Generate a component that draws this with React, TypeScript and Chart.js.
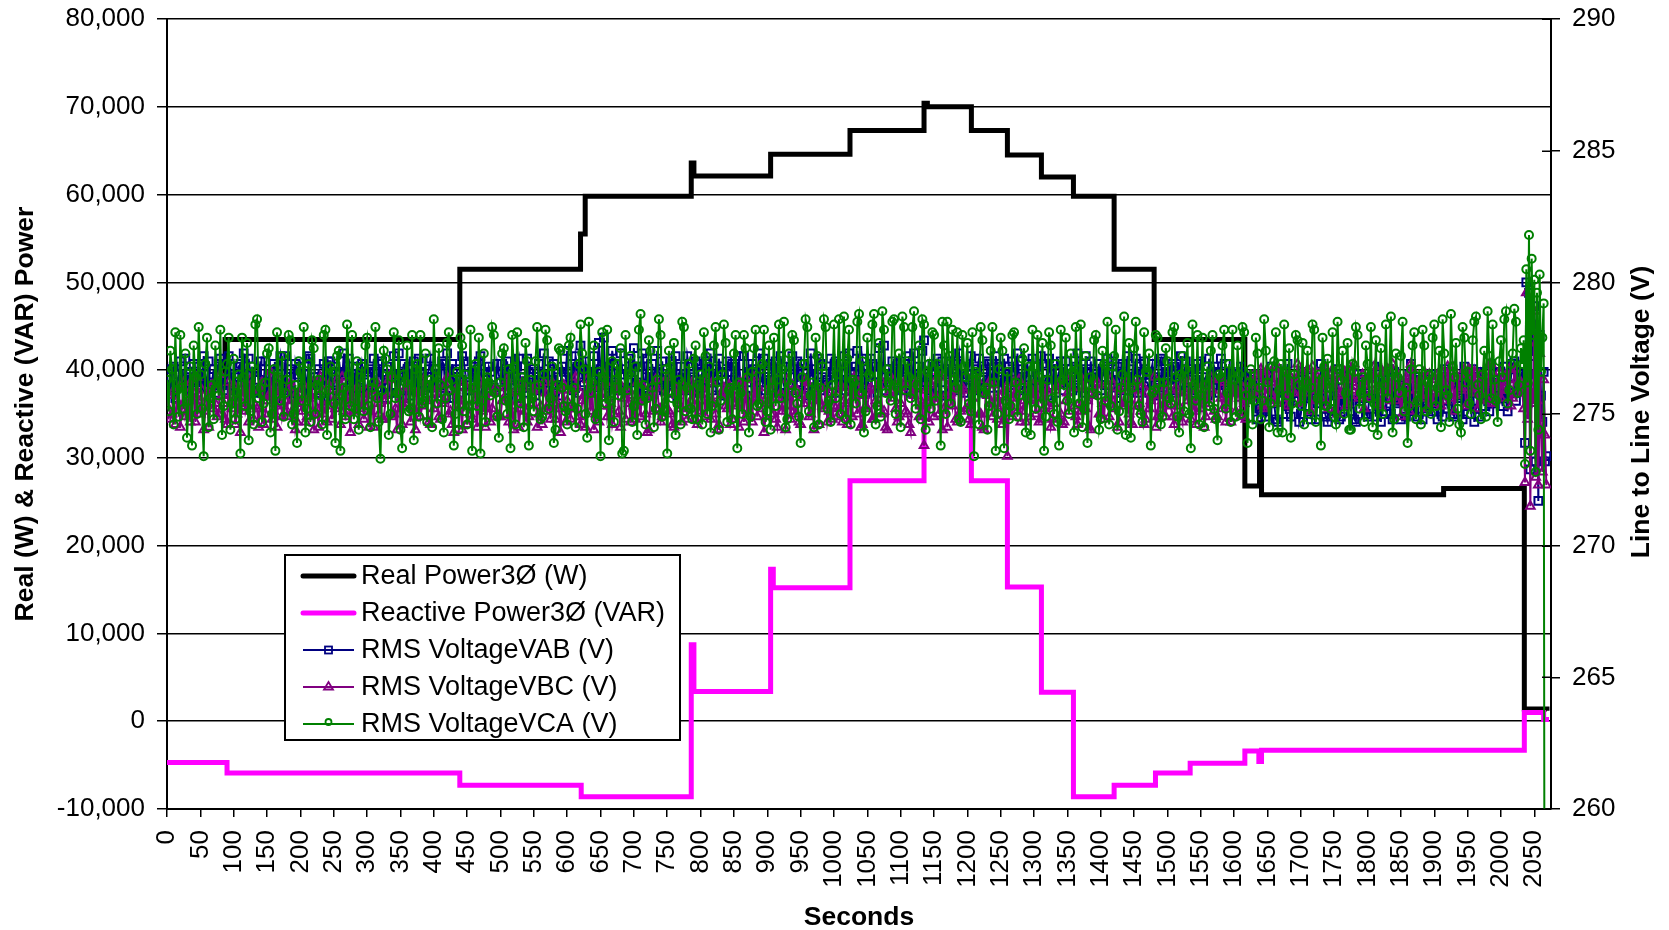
import React, { useEffect, useRef } from 'react';
import { Chart, registerables } from 'chart.js';

Chart.register(...registerables);

const FONT = "'Liberation Sans', Arial, Helvetica, sans-serif";

const X_TITLE = 'Seconds';
const LEFT_TITLE = 'Real (W) & Reactive (VAR) Power';
const RIGHT_TITLE = 'Line to Line Voltage (V)';

const NAME_REAL = 'Real Power3Ø (W)';
const NAME_REACTIVE = 'Reactive Power3Ø (VAR)';
const NAME_VAB = 'RMS VoltageVAB (V)';
const NAME_VBC = 'RMS VoltageVBC (V)';
const NAME_VCA = 'RMS VoltageVCA (V)';

const X_MIN = 0;
const X_MAX = 2075;
const X_STEP = 50;
const POWER_MIN = -10000;
const POWER_MAX = 80000;
const POWER_STEP = 10000;
const VOLT_MIN = 260;
const VOLT_MAX = 290;
const VOLT_STEP_TICK = 5;

// Real power: value starts at the given second (step changes)
const realSeconds = [0, 87, 439, 620, 627, 786, 790, 905, 1024, 1135, 1140, 1206, 1260, 1311, 1359, 1420, 1480, 1616, 1638, 1641, 1914, 2035, 2069];
const realWatts = [38500, 43500, 51500, 55500, 59800, 63600, 62100, 64600, 67300, 70400, 70000, 67300, 64500, 62000, 59800, 51500, 43500, 26800, 34000, 25800, 26500, 1400, 1200];

// Reactive power: value starts at the given second (step changes)
const reactiveSeconds = [0, 90, 439, 621, 786, 790, 905, 909, 1024, 1135, 1206, 1260, 1311, 1359, 1420, 1482, 1534, 1616, 1637, 1641, 2035, 2064, 2072];
const reactiveVars = [-4700, -5900, -7300, -8600, 8700, 3400, 17300, 15200, 27400, 39400, 27400, 15300, 3300, -8600, -7300, -5900, -4800, -3400, -4600, -3300, 1000, 200, 200];

// RMS voltages: "A" samples at 0, 5, 10 ... 2030 s; "B" samples at 2.5, 7.5 ... 2027.5 s
const SAMPLE_PERIOD = 5;
const B_OFFSET = 2.5;

const vabA = [
  276.4, 275.9, 276.8, 276.1, 277.0, 276.3, 275.7, 276.6, 276.9, 275.8, 276.2, 277.2, 276.0, 275.6, 276.7, 276.4, 277.1, 275.9, 276.3, 276.8,
  276.1, 275.5, 276.9, 277.3, 276.0, 276.5, 275.8, 276.6, 277.0, 276.2, 275.7, 276.4, 276.9, 276.1, 277.2, 275.9, 276.3, 276.7, 275.6, 276.5,
  276.8, 276.0, 275.8, 277.1, 276.4, 276.2, 275.5, 276.9, 276.3, 277.0, 276.1, 275.9, 276.6, 277.3, 276.0, 276.4, 275.7, 276.8, 276.2, 276.5,
  275.9, 276.7, 277.1, 276.0, 276.3, 275.6, 276.8, 276.4, 277.2, 275.8, 276.1, 276.9, 276.5, 275.7, 277.0, 276.2, 276.6, 275.9, 276.4, 277.1,
  276.0, 276.5, 275.8, 276.9, 277.3, 276.2, 275.6, 276.7, 276.3, 277.0, 276.1, 275.9, 276.8, 276.4, 277.2, 275.7, 276.3, 276.6, 276.0, 276.9,
  276.2, 275.8, 277.0, 276.5, 276.1, 276.8, 275.6, 276.4, 277.1, 276.0, 276.7, 275.9, 276.3, 277.3, 276.2, 275.7, 276.9, 276.4, 276.0, 276.6,
  277.4, 276.3, 275.9, 276.8, 277.6, 276.2, 276.5, 275.8, 277.2, 276.0, 276.7, 277.9, 276.4, 275.7, 276.9, 276.1, 277.3, 276.5, 275.9, 276.6,
  277.5, 276.2, 276.8, 275.8, 277.1, 276.4, 276.0, 277.4, 276.3, 275.9, 276.7, 277.0, 276.2, 275.6, 276.8, 276.5, 277.2, 276.0, 276.4, 276.9,
  276.1, 275.8, 276.9, 277.3, 276.4, 276.0, 276.6, 275.7, 277.0, 276.3, 276.8, 276.1, 275.9, 277.2, 276.5, 276.2, 276.7, 275.8, 276.4, 277.1,
  276.3, 276.9, 275.9, 276.5, 277.2, 276.1, 275.7, 276.8, 276.4, 277.0, 276.2, 275.8, 276.6, 277.3, 276.0, 276.5, 276.9, 275.9, 276.3, 277.1,
  276.4, 275.8, 276.9, 277.2, 276.1, 276.6, 275.9, 277.4, 276.3, 276.7, 276.0, 277.1, 276.5, 275.8, 276.8, 277.6, 276.2, 276.4, 275.9, 276.9,
  277.0, 276.3, 276.7, 275.8, 277.3, 276.5, 276.1, 277.8, 276.4, 275.9, 276.8, 277.1, 276.2, 276.6, 275.7, 277.0, 276.4, 276.9, 276.1, 275.8,
  276.5, 277.2, 276.0, 276.7, 275.9, 276.4, 277.0, 276.2, 275.7, 276.8, 276.3, 277.1, 276.0, 275.8, 276.6, 277.3, 276.4, 276.1, 276.9, 275.9,
  276.3, 276.8, 277.2, 276.0, 275.7, 276.5, 276.9, 276.2, 277.0, 275.9, 276.4, 276.7, 276.1, 277.3, 276.5, 275.8, 276.6, 277.0, 276.2, 276.4,
  275.9, 276.7, 277.1, 276.3, 276.0, 276.8, 275.6, 276.5, 277.2, 276.1, 276.4, 275.8, 276.9, 277.0, 276.2, 276.6, 275.7, 276.3, 277.1, 276.0,
  276.5, 276.1, 276.8, 275.9, 277.2, 276.4, 276.0, 276.7, 275.8, 276.9, 277.0, 276.2, 275.7, 276.5, 276.8, 276.1, 277.1, 275.9, 276.3, 276.6,
  276.2, 275.9, 276.8, 276.4, 275.7, 276.0, 276.5, 274.8, 275.6, 276.4, 275.1, 276.8, 275.4, 274.7, 276.2, 275.8, 276.9, 274.9, 275.5, 276.3,
  275.0, 276.6, 275.7, 274.8, 276.1, 275.4, 276.9, 275.2, 274.7, 276.0, 275.8, 276.7, 274.9, 275.5, 276.3, 275.1, 274.8, 276.5, 275.6, 276.1,
  274.9, 275.7, 276.8, 275.3, 274.7, 276.2, 275.9, 275.0, 276.6, 275.4, 274.8, 276.0, 275.6, 276.9, 275.1, 274.9, 276.3, 275.8, 275.2, 276.5,
  275.5, 274.8, 276.1, 276.7, 275.2, 275.9, 274.9, 276.4, 275.6, 276.8, 275.0, 276.2, 274.7, 275.8, 276.6, 275.3, 276.0, 276.9, 275.4, 276.3,
  275.7, 276.8, 275.1, 276.4, 277.0, 275.9, 276.5,
];
const vabB = [
  276.0, 276.7, 275.6, 276.5, 276.2, 277.1, 276.4, 275.9, 276.3, 276.8, 275.7, 276.5, 277.0, 276.2, 275.8, 276.9, 276.1, 276.6, 277.2, 275.9,
  276.4, 276.8, 275.7, 276.2, 277.1, 275.9, 276.6, 276.3, 275.8, 277.0, 276.5, 276.1, 275.6, 276.8, 276.3, 277.2, 276.0, 275.8, 276.9, 276.4,
  275.8, 276.5, 277.2, 276.1, 275.9, 276.7, 276.3, 275.6, 277.0, 276.4, 276.8, 275.7, 276.2, 276.6, 277.1, 275.9, 276.5, 276.0, 276.9, 275.8,
  276.6, 276.0, 275.7, 276.9, 277.0, 276.3, 275.8, 276.5, 276.1, 277.3, 276.4, 275.6, 276.8, 276.2, 275.9, 277.1, 276.5, 276.0, 276.7, 275.8,
  276.7, 276.1, 277.0, 275.7, 276.4, 276.9, 276.0, 275.8, 277.2, 276.5, 275.9, 276.6, 276.2, 277.0, 275.7, 276.3, 276.8, 276.1, 275.9, 276.5,
  276.9, 276.3, 275.6, 276.7, 276.0, 277.1, 276.4, 275.8, 276.6, 276.2, 275.7, 276.9, 276.5, 275.9, 277.0, 276.3, 276.1, 275.7, 276.8, 276.4,
  276.1, 276.9, 277.2, 275.8, 276.4, 277.0, 275.9, 276.6, 276.3, 277.7, 276.1, 275.8, 276.8, 277.4, 276.2, 275.9, 276.7, 276.0, 277.1, 276.3,
  276.0, 276.8, 277.3, 276.4, 275.7, 276.9, 276.2, 276.6, 277.0, 276.1, 275.8, 276.5, 277.2, 276.0, 276.4, 275.9, 276.8, 276.3, 277.0, 275.8,
  276.6, 277.0, 276.2, 275.9, 276.7, 277.1, 276.3, 276.0, 275.8, 276.9, 276.4, 277.2, 276.1, 275.7, 276.6, 276.9, 276.0, 277.3, 276.2, 275.9,
  276.7, 276.2, 277.0, 275.8, 276.4, 276.8, 276.1, 277.2, 275.9, 276.5, 276.9, 276.3, 275.7, 276.7, 276.0, 277.1, 276.4, 276.2, 275.8, 276.6,
  277.0, 276.3, 276.6, 275.9, 277.3, 276.1, 276.8, 276.0, 277.1, 275.8, 276.5, 276.9, 276.2, 277.5, 276.4, 275.9, 276.7, 277.0, 276.3, 276.1,
  276.6, 275.9, 277.2, 276.4, 276.0, 276.8, 277.4, 276.2, 275.8, 276.9, 276.3, 275.7, 277.0, 276.5, 276.1, 276.7, 275.9, 277.3, 276.4, 276.0,
  276.8, 276.1, 276.5, 277.1, 276.3, 275.8, 276.9, 276.6, 277.2, 276.0, 275.7, 276.4, 276.8, 277.0, 276.2, 275.9, 276.7, 276.3, 276.0, 277.1,
  276.0, 276.5, 276.9, 276.3, 277.1, 276.1, 275.8, 276.6, 276.4, 277.0, 276.2, 275.9, 276.8, 276.0, 276.7, 277.2, 276.1, 275.8, 276.5, 276.9,
  276.4, 276.1, 276.6, 277.0, 275.8, 276.3, 276.9, 276.2, 275.9, 276.7, 277.1, 276.0, 276.5, 276.2, 275.8, 276.9, 276.4, 277.0, 275.9, 276.6,
  276.3, 276.9, 275.8, 276.5, 276.1, 277.0, 276.6, 275.9, 276.3, 276.7, 275.7, 276.4, 277.1, 276.0, 276.6, 275.8, 276.2, 276.9, 276.5, 276.0,
  276.5, 276.0, 276.6, 275.8, 276.3, 276.1, 275.9, 275.2, 276.3, 274.9, 275.7, 276.1, 274.8, 275.9, 276.6, 275.0, 275.4, 276.2, 275.8, 274.7,
  276.0, 275.3, 276.4, 275.9, 274.8, 275.6, 276.2, 274.9, 275.7, 276.5, 275.1, 274.8, 276.0, 275.4, 276.6, 275.8, 274.7, 275.5, 276.3, 275.0,
  275.6, 276.4, 274.9, 275.8, 276.3, 275.1, 276.7, 274.8, 275.5, 276.1, 275.9, 274.9, 276.5, 275.2, 275.7, 276.4, 274.8, 276.0, 275.6, 275.1,
  276.2, 275.4, 274.9, 275.9, 276.6, 275.0, 276.3, 275.7, 274.8, 276.1, 275.5, 276.7, 275.2, 274.9, 276.4, 275.8, 275.1, 276.2, 275.7, 276.6,
  275.3, 276.1, 275.8, 276.9, 275.5, 276.3,
];

const vbcA = [
  275.3, 274.8, 275.9, 275.5, 274.5, 276.2, 275.1, 274.7, 275.8, 276.4, 275.0, 274.4, 275.6, 276.0, 275.2, 274.9, 276.5, 275.4, 274.6, 275.7,
  276.1, 275.0, 274.3, 275.8, 275.4, 276.3, 274.8, 275.2, 276.0, 274.6, 275.5, 276.6, 275.1, 274.5, 275.9, 275.3, 274.9, 276.2, 275.6, 274.7,
  275.4, 276.1, 274.9, 275.7, 274.4, 275.2, 276.4, 275.0, 274.7, 275.9, 275.5, 276.3, 274.6, 275.1, 275.8, 274.3, 275.6, 276.0, 275.2, 274.8,
  275.9, 275.1, 274.5, 276.2, 275.4, 274.8, 275.7, 276.5, 275.0, 274.4, 275.6, 275.3, 276.1, 274.7, 275.2, 275.8, 274.9, 276.3, 275.5, 274.6,
  275.2, 276.0, 274.8, 275.5, 276.4, 275.1, 274.3, 275.7, 275.3, 276.2, 274.6, 275.0, 275.9, 274.5, 275.4, 276.1, 275.2, 274.7, 275.8, 275.0,
  274.9, 275.6, 276.3, 275.0, 274.4, 275.8, 275.2, 276.0, 274.7, 275.4, 275.9, 274.5, 275.3, 276.2, 275.1, 274.8, 275.7, 275.4, 274.3, 276.1,
  275.5, 274.8, 275.2, 276.0, 274.6, 275.7, 276.3, 275.1, 274.4, 275.8, 275.3, 276.5, 274.9, 275.4, 275.0, 276.1, 274.5, 275.6, 275.9, 274.7,
  275.3, 276.2, 274.9, 275.6, 274.3, 275.8, 275.1, 276.0, 274.7, 275.4, 276.4, 275.0, 274.5, 275.7, 275.2, 276.1, 274.8, 275.5, 275.9, 274.6,
  275.1, 275.8, 276.3, 274.8, 275.4, 274.4, 275.7, 276.0, 275.2, 274.6, 275.9, 275.3, 276.2, 274.7, 275.0, 275.6, 276.4, 274.9, 275.5, 274.3,
  275.7, 276.1, 275.0, 274.5, 275.8, 275.3, 276.3, 274.8, 275.1, 275.9, 274.6, 275.4, 276.2, 275.0, 274.4, 275.6, 276.0, 275.2, 274.7, 275.8,
  275.3, 274.9, 276.1, 275.5, 274.6, 275.8, 276.4, 275.0, 274.5, 275.7, 275.2, 276.0, 274.8, 275.4, 276.3, 275.1, 274.4, 275.9, 275.6, 274.7,
  275.4, 276.2, 275.0, 274.3, 275.7, 276.0, 275.3, 273.8, 275.5, 276.1, 274.9, 275.6, 276.4, 275.2, 274.5, 275.8, 276.0, 274.7, 275.1, 275.9,
  275.2, 274.6, 275.9, 276.3, 275.0, 274.4, 275.7, 275.4, 276.1, 274.8, 275.3, 275.9, 273.4, 275.6, 276.2, 275.1, 274.7, 275.5, 276.0, 274.9,
  275.6, 276.3, 274.8, 275.2, 275.9, 274.5, 275.4, 276.1, 275.0, 274.7, 275.8, 276.4, 275.3, 274.6, 275.1, 276.0, 275.5, 274.4, 275.7, 276.2,
  275.0, 274.8, 275.6, 276.3, 275.2, 274.5, 275.9, 275.4, 276.0, 274.7, 275.3, 276.2, 275.1, 274.6, 275.8, 275.5, 276.4, 274.9, 275.2, 275.7,
  276.1, 275.3, 274.6, 275.9, 275.0, 276.3, 275.5, 274.8, 275.7, 276.0, 275.2, 274.5, 275.8, 276.4, 275.1, 274.9, 275.6, 276.2, 275.3, 274.7,
  275.8, 276.1, 274.9, 275.4, 276.2, 275.6, 276.5, 275.9, 276.7, 275.2, 276.3, 275.7, 276.8, 275.4, 276.0, 276.6, 275.3, 276.4, 275.8, 276.9,
  275.5, 276.2, 276.7, 275.1, 275.9, 276.4, 275.6, 276.8, 275.3, 276.1, 276.5, 275.0, 275.8, 276.6, 275.4, 276.3, 276.9, 275.7, 276.0, 275.2,
  276.4, 275.6, 276.8, 275.9, 275.3, 276.2, 276.7, 275.5, 276.0, 276.5, 274.9, 275.8, 276.3, 276.9, 275.4, 276.1, 275.7, 276.6, 275.2, 276.0,
  275.8, 276.5, 275.3, 276.1, 276.8, 275.6, 275.1, 276.4, 275.9, 276.7, 275.4, 276.0, 276.6, 275.2, 275.8, 276.3, 275.5, 276.9, 275.7, 276.2,
  275.6, 276.4, 275.9, 275.3, 276.7, 275.8, 276.2,
];
const vbcB = [
  275.7, 275.0, 274.6, 276.0, 275.3, 274.9, 275.8, 276.3, 274.7, 275.5, 275.9, 275.1, 274.5, 276.1, 275.4, 275.0, 275.7, 274.8, 276.2, 275.2,
  274.6, 275.6, 276.0, 275.1, 274.7, 275.9, 275.3, 274.5, 276.2, 275.0, 275.7, 274.8, 275.4, 276.3, 274.9, 275.5, 276.0, 275.1, 274.4, 275.8,
  275.1, 274.7, 275.6, 276.2, 275.0, 274.5, 275.9, 275.3, 276.1, 274.8, 275.2, 275.7, 276.4, 274.9, 275.4, 276.0, 275.1, 274.6, 275.8, 275.3,
  274.5, 275.7, 276.1, 275.0, 274.8, 275.5, 276.3, 274.9, 275.2, 275.9, 274.6, 275.4, 276.0, 275.2, 274.4, 275.8, 275.3, 276.2, 274.7, 275.6,
  275.8, 274.9, 275.4, 276.1, 275.0, 274.6, 275.9, 275.5, 274.4, 276.0, 275.3, 274.8, 275.6, 276.3, 275.1, 274.5, 275.8, 275.2, 276.0, 274.9,
  275.5, 276.0, 274.7, 275.3, 275.9, 274.5, 276.2, 275.1, 274.9, 275.7, 276.1, 275.0, 274.6, 275.8, 275.4, 276.2, 274.8, 275.2, 275.9, 274.7,
  275.2, 275.9, 276.4, 274.9, 275.5, 274.5, 275.8, 276.1, 275.0, 274.7, 275.6, 276.2, 275.3, 274.6, 275.9, 275.1, 276.0, 274.8, 275.4, 275.7,
  274.8, 275.5, 276.1, 275.0, 274.4, 275.7, 276.3, 275.2, 274.9, 275.8, 275.1, 274.6, 276.0, 275.4, 274.7, 275.9, 275.3, 276.2, 274.8, 275.5,
  276.0, 274.9, 275.5, 276.2, 275.0, 274.6, 275.8, 275.3, 276.1, 274.8, 275.4, 274.5, 275.9, 276.3, 275.1, 274.7, 275.6, 276.0, 275.2, 274.9,
  275.4, 276.2, 274.8, 275.6, 275.1, 274.4, 275.9, 276.1, 275.0, 274.7, 275.7, 276.3, 274.9, 275.5, 275.8, 274.6, 275.3, 276.0, 275.1, 274.8,
  275.9, 275.2, 274.7, 276.0, 275.4, 274.9, 275.7, 276.2, 274.6, 275.3, 275.9, 274.8, 275.5, 276.1, 275.0, 274.5, 275.8, 276.3, 275.2, 274.9,
  276.0, 275.1, 274.6, 275.8, 276.2, 274.9, 275.4, 275.9, 274.7, 275.6, 276.3, 275.0, 274.4, 275.7, 276.1, 275.3, 274.8, 275.9, 276.0, 275.2,
  274.8, 275.6, 276.1, 275.0, 274.5, 275.8, 276.2, 274.9, 275.4, 275.7, 274.6, 276.0, 275.3, 274.9, 275.8, 276.3, 275.1, 274.7, 275.5, 276.1,
  275.0, 274.7, 275.6, 276.0, 275.3, 274.8, 275.9, 276.2, 274.6, 275.5, 275.1, 276.0, 274.9, 275.4, 276.3, 275.2, 274.5, 275.8, 276.1, 275.0,
  275.4, 276.1, 274.9, 275.5, 276.0, 274.7, 275.3, 276.2, 275.0, 274.6, 275.9, 275.4, 276.1, 274.8, 275.2, 275.7, 274.5, 276.0, 275.5, 274.9,
  275.6, 274.9, 276.0, 275.3, 274.7, 275.8, 276.2, 275.1, 274.6, 275.5, 276.1, 274.9, 275.4, 275.9, 274.8, 276.3, 275.2, 274.7, 275.8, 276.0,
  275.1, 275.6, 276.0, 274.8, 275.5, 276.1, 275.7, 276.4, 275.3, 276.6, 275.9, 276.2, 275.5, 276.7, 276.0, 275.6, 276.5, 275.9, 276.3, 275.4,
  276.6, 275.8, 276.2, 276.8, 275.5, 276.3, 275.9, 276.5, 275.2, 276.7, 276.0, 275.7, 276.4, 275.3, 276.8, 275.9, 276.2, 275.6, 276.5, 276.1,
  275.7, 276.3, 276.0, 275.4, 276.6, 275.8, 276.2, 276.9, 275.5, 276.1, 275.8, 276.4, 275.1, 276.7, 275.9, 276.3, 275.6, 276.0, 276.5, 275.4,
  276.3, 275.9, 276.6, 275.5, 276.2, 276.8, 275.7, 276.0, 276.4, 275.3, 276.7, 275.8, 276.1, 276.5, 275.6, 276.2, 276.9, 275.4, 276.0, 276.6,
  275.9, 276.2, 276.7, 275.6, 276.3, 276.0,
];

const vcaA = [
  276.3, 277.4, 274.6, 275.9, 278.0, 275.2, 274.1, 276.8, 277.6, 275.0, 276.5, 273.4, 277.9, 275.6, 274.8, 276.2, 278.2, 275.3, 276.9, 274.4,
  277.1, 275.8, 273.5, 276.4, 277.7, 275.1, 274.6, 278.6, 276.0, 275.4, 277.3, 274.3, 276.7, 278.1, 275.5, 274.9, 276.3, 277.8, 275.0, 273.9,
  276.6, 278.3, 275.2, 274.7, 277.5, 276.1, 275.7, 278.0, 274.2, 276.8, 275.4, 277.2, 273.6, 276.0, 278.4, 275.3, 274.8, 277.0, 276.4, 275.1,
  277.9, 274.5, 276.2, 275.6, 273.3, 277.4, 276.7, 275.0, 278.1, 275.8, 274.4, 276.5, 277.6, 275.2, 274.0, 276.9, 278.0, 275.5, 274.7, 276.3,
  278.6, 275.4, 276.1, 274.3, 277.7, 275.9, 273.8, 276.6, 277.9, 275.1, 274.6, 278.2, 276.0, 275.3, 273.5, 277.3, 276.4, 275.7, 278.0, 274.9,
  276.2, 277.5, 275.0, 273.7, 276.8, 278.1, 275.4, 274.5, 277.0, 276.3, 275.1, 278.3, 274.8, 276.5, 277.8, 275.6, 273.9, 276.1, 277.4, 275.3,
  274.6, 277.9, 276.0, 275.2, 278.4, 276.7, 274.1, 275.8, 277.6, 275.0, 273.4, 276.4, 278.2, 275.5, 274.7, 276.9, 277.5, 273.6, 275.9, 277.2,
  275.3, 274.2, 278.8, 276.1, 275.6, 277.4, 274.5, 276.3, 278.0, 275.1, 273.5, 276.8, 277.7, 275.4, 274.6, 278.3, 276.0, 275.2, 277.1, 274.8,
  276.5, 278.1, 275.0, 274.3, 277.6, 276.2, 275.5, 278.4, 274.7, 276.0, 277.3, 273.7, 275.8, 278.0, 276.4, 274.9, 277.5, 275.3, 276.7, 278.2,
  275.1, 274.4, 277.9, 276.3, 275.6, 278.5, 274.8, 276.1, 277.8, 275.4, 273.9, 276.9, 278.3, 275.7, 274.5, 277.2, 276.0, 278.6, 275.2, 274.7,
  278.4, 276.5, 275.0, 278.7, 277.1, 274.6, 276.2, 278.5, 275.8, 274.3, 277.9, 276.4, 278.8, 275.3, 274.9, 278.2, 276.7, 275.5, 278.6, 276.0,
  274.5, 278.3, 277.0, 275.6, 278.9, 276.1, 274.8, 278.4, 276.6, 275.2, 278.0, 276.9, 273.8, 277.6, 278.5, 275.4, 276.3, 278.1, 274.7, 276.8,
  277.7, 275.1, 273.4, 276.5, 278.3, 275.8, 274.4, 277.4, 276.2, 275.0, 277.9, 273.7, 276.6, 275.3, 278.1, 274.9, 276.0, 277.5, 275.6, 274.2,
  276.8, 278.0, 275.4, 273.6, 276.3, 277.6, 275.0, 274.7, 278.2, 276.1, 275.5, 277.3, 274.3, 276.7, 278.4, 275.2, 273.9, 276.4, 277.8, 275.7,
  274.8, 276.9, 278.5, 275.3, 277.2, 274.4, 276.0, 278.7, 275.6, 274.1, 277.5, 276.3, 275.0, 278.1, 276.6, 273.8, 275.9, 277.9, 274.6, 276.2,
  277.0, 275.4, 278.3, 274.9, 276.5, 275.1, 277.7, 273.7, 276.1, 278.0, 275.7, 274.5, 276.8, 277.4, 275.2, 274.0, 276.4, 278.2, 275.8, 274.7,
  276.3, 277.6, 275.0, 278.1, 273.9, 276.7, 275.5, 277.3, 274.8, 278.6, 276.2, 275.4, 277.0, 274.3, 276.9, 278.4, 275.7, 274.1, 276.5, 277.8,
  275.3, 274.6, 277.4, 276.0, 278.2, 275.6, 273.8, 276.8, 277.1, 275.2, 274.9, 278.5, 276.3, 275.0, 277.7, 274.4, 276.6, 278.0, 275.8, 274.7,
  276.9, 278.3, 275.4, 274.2, 277.5, 276.1, 275.6, 278.7, 274.8, 276.4, 277.2, 275.1, 273.9, 276.7, 278.1, 275.5, 274.6, 277.6, 276.2, 275.0,
  278.4, 276.0, 274.5, 277.3, 275.7, 278.8, 276.4, 275.2, 274.3, 277.9, 276.6, 275.0, 278.5, 276.1, 274.8, 277.4, 278.9, 275.6, 276.3, 274.7,
  277.8, 278.6, 275.4, 276.9, 279.0, 275.8, 277.5,
];
const vcaB = [
  275.1, 276.7, 278.1, 274.9, 276.0, 277.3, 275.5, 273.8, 276.4, 278.3, 275.2, 276.9, 274.5, 276.1, 277.6, 275.7, 274.2, 276.6, 277.9, 275.4,
  274.8, 276.5, 277.9, 275.3, 274.0, 276.8, 278.4, 275.6, 274.7, 276.2, 277.5, 275.0, 273.6, 276.4, 277.2, 275.8, 278.0, 274.6, 276.1, 277.0,
  275.5, 274.3, 276.9, 277.8, 275.0, 276.3, 274.6, 278.2, 275.9, 276.6, 273.9, 277.4, 275.7, 274.8, 276.5, 278.0, 275.2, 274.4, 276.8, 277.6,
  275.3, 276.0, 278.3, 274.7, 275.9, 277.1, 274.2, 276.4, 275.6, 277.8, 273.7, 276.2, 275.1, 278.0, 276.7, 274.9, 275.4, 277.3, 276.1, 274.5,
  276.7, 277.5, 274.8, 275.6, 278.1, 276.3, 275.0, 274.4, 277.6, 276.5, 275.3, 273.6, 276.9, 277.9, 275.5, 274.7, 276.2, 278.3, 275.8, 274.1,
  277.3, 275.5, 276.7, 278.0, 274.6, 275.9, 276.4, 277.7, 273.8, 275.6, 277.0, 276.1, 274.9, 278.2, 275.2, 276.8, 274.4, 277.5, 276.0, 275.1,
  277.6, 275.3, 274.5, 276.9, 277.3, 275.0, 278.5, 276.2, 274.8, 276.6, 278.1, 275.4, 274.0, 277.0, 276.3, 275.7, 273.5, 278.0, 276.5, 274.7,
  276.8, 278.2, 275.5, 274.6, 277.8, 276.0, 275.2, 278.6, 274.9, 276.7, 277.4, 275.6, 274.2, 276.3, 278.5, 275.1, 276.9, 274.8, 277.6, 276.1,
  274.6, 277.2, 276.8, 275.3, 278.3, 274.4, 276.5, 277.7, 275.9, 274.8, 278.0, 276.2, 275.0, 277.5, 274.3, 276.6, 278.2, 275.4, 276.9, 274.7,
  277.6, 276.0, 275.3, 278.4, 276.7, 274.5, 277.3, 278.0, 275.8, 274.9, 276.4, 278.6, 275.1, 276.2, 277.9, 274.6, 276.8, 278.3, 275.5, 276.1,
  275.6, 278.6, 276.9, 274.8, 278.2, 276.3, 275.4, 278.8, 277.0, 275.1, 276.5, 278.4, 274.6, 277.7, 278.9, 275.8, 276.2, 278.5, 275.0, 277.3,
  278.7, 275.9, 276.4, 278.3, 275.2, 277.6, 278.6, 274.4, 276.9, 278.1, 275.5, 276.6, 278.5, 275.0, 277.2, 278.2, 276.0, 274.8, 278.0, 276.4,
  275.4, 278.1, 276.6, 274.6, 277.8, 276.0, 275.3, 278.3, 273.6, 276.7, 277.4, 275.5, 274.8, 278.0, 276.2, 275.7, 277.1, 274.3, 276.8, 278.2,
  275.2, 276.4, 277.7, 274.9, 278.1, 275.6, 276.9, 273.8, 276.3, 277.9, 275.0, 276.6, 278.3, 275.4, 274.5, 277.2, 276.1, 275.8, 278.0, 274.4,
  277.4, 275.5, 274.6, 276.8, 278.2, 275.1, 276.5, 274.2, 277.7, 276.0, 278.5, 275.3, 274.7, 276.6, 277.3, 275.8, 278.0, 276.2, 274.9, 277.5,
  275.6, 278.1, 276.4, 274.3, 277.2, 276.7, 275.0, 278.4, 275.5, 274.6, 277.9, 276.1, 275.3, 278.0, 274.8, 276.5, 277.6, 275.2, 276.9, 278.2,
  274.9, 276.5, 278.3, 275.7, 276.2, 274.6, 277.9, 276.0, 275.5, 277.4, 274.5, 276.8, 278.1, 275.9, 274.3, 276.6, 277.5, 275.4, 278.0, 276.1,
  277.7, 276.2, 275.0, 278.4, 274.7, 276.5, 277.9, 275.3, 276.0, 278.1, 274.6, 276.7, 277.4, 275.8, 274.4, 276.9, 278.3, 275.2, 276.4, 277.6,
  275.6, 274.5, 277.8, 276.3, 275.0, 278.4, 276.6, 274.3, 277.3, 275.8, 278.5, 276.0, 275.3, 277.6, 274.8, 276.7, 278.2, 275.1, 276.5, 277.9,
  275.3, 277.4, 278.6, 275.9, 274.7, 276.8, 277.7, 274.6, 278.3, 276.2, 275.4, 277.8, 278.7, 275.7, 276.5, 274.9, 277.2, 278.4, 275.5, 277.0,
  276.4, 278.9, 275.9, 277.3, 278.5, 276.1,
];

// Disturbed tail at the end of the test (every 2 s)
const tailSeconds = [2032, 2034, 2036, 2038, 2040, 2042, 2044, 2046, 2048, 2050, 2052, 2054, 2056, 2058, 2060, 2062, 2064, 2066, 2068];
const vabTail = [276.6, 276.2, 273.9, 280.0, 275.4, 279.6, 272.9, 278.4, 277.2, 279.1, 273.2, 276.5, 271.7, 278.0, 275.7, 274.7, 276.6, 273.2, 273.4];
const vbcTail = [275.8, 275.2, 272.4, 279.6, 274.8, 277.7, 271.5, 276.0, 275.4, 278.9, 272.6, 275.5, 272.3, 277.3, 274.3, 272.8, 276.3, 274.2, 272.3];
const vcaTail = [276.9, 277.8, 273.1, 280.5, 276.2, 281.8, 273.6, 280.9, 278.0, 280.1, 272.8, 279.6, 274.4, 280.3, 276.6, 277.9, 279.2, 240.0, 240.0];

const COLOR_REAL = '#000000';
const COLOR_REACTIVE = '#FF00FF';
const COLOR_VAB = '#000080';
const COLOR_VBC = '#800080';
const COLOR_VCA = '#008000';

function toPoints(xs: number[], ys: number[]) {
  return xs.map((x, i) => ({ x, y: ys[i] }));
}

function voltPoints(a: number[], b: number[], tail: number[]) {
  const pts: { x: number; y: number }[] = [];
  a.forEach((y, i) => {
    pts.push({ x: i * SAMPLE_PERIOD, y });
    if (i < b.length) pts.push({ x: i * SAMPLE_PERIOD + B_OFFSET, y: b[i] });
  });
  return pts.concat(toPoints(tailSeconds, tail));
}

const overlayPlugin = {
  id: 'overlayPlugin',
  afterDraw(chart: any) {
    const ctx: CanvasRenderingContext2D = chart.ctx;
    const area = chart.chartArea;
    ctx.save();

    // inner tick marks of the right axis (they cross the axis line)
    const y1 = chart.scales.y1;
    ctx.strokeStyle = '#000';
    ctx.lineWidth = 1.5;
    y1.ticks.forEach((t: any) => {
      const py = Math.round(y1.getPixelForValue(t.value)) + 0.25;
      ctx.beginPath();
      ctx.moveTo(area.right - 9, py);
      ctx.lineTo(area.right, py);
      ctx.stroke();
    });

    // axis titles
    ctx.fillStyle = '#000';
    ctx.font = `bold 26.5px ${FONT}`;
    ctx.textAlign = 'center';
    ctx.textBaseline = 'middle';
    const midY = (area.top + area.bottom) / 2;
    ctx.save();
    ctx.translate(26, midY);
    ctx.rotate(-Math.PI / 2);
    ctx.fillText(LEFT_TITLE, 0, 0);
    ctx.restore();
    ctx.save();
    ctx.translate(1642, midY - 2);
    ctx.rotate(-Math.PI / 2);
    ctx.fillText(RIGHT_TITLE, 0, 0);
    ctx.restore();
    ctx.fillText(X_TITLE, (area.left + area.right) / 2, 918);

    // legend
    const lx = 285, ly = 555, lw = 395, lh = 185;
    ctx.fillStyle = '#fff';
    ctx.fillRect(lx, ly, lw, lh);
    ctx.strokeStyle = '#000';
    ctx.lineWidth = 2;
    ctx.strokeRect(lx, ly, lw, lh);

    const rows = [576, 613, 650, 687, 724];
    const entries = [
      { name: NAME_REAL, color: COLOR_REAL, width: 5, marker: '' },
      { name: NAME_REACTIVE, color: COLOR_REACTIVE, width: 5, marker: '' },
      { name: NAME_VAB, color: COLOR_VAB, width: 2, marker: 'rect' },
      { name: NAME_VBC, color: COLOR_VBC, width: 2, marker: 'triangle' },
      { name: NAME_VCA, color: COLOR_VCA, width: 2, marker: 'circle' },
    ];
    const sx0 = 303, sx1 = 354, mx = 328.5;
    entries.forEach((e, i) => {
      const y = rows[i];
      ctx.strokeStyle = e.color;
      ctx.lineWidth = e.width;
      ctx.lineCap = e.width > 2 ? 'round' : 'butt';
      ctx.beginPath();
      ctx.moveTo(sx0, y);
      ctx.lineTo(sx1, y);
      ctx.stroke();
      ctx.lineCap = 'butt';
      ctx.lineWidth = 1.8;
      if (e.marker === 'rect') {
        ctx.strokeRect(mx - 3.5, y - 3.5, 7, 7);
      } else if (e.marker === 'triangle') {
        ctx.beginPath();
        ctx.moveTo(mx, y - 5);
        ctx.lineTo(mx + 4.5, y + 2.5);
        ctx.lineTo(mx - 4.5, y + 2.5);
        ctx.closePath();
        ctx.stroke();
      } else if (e.marker === 'circle') {
        ctx.beginPath();
        ctx.arc(mx, y - 2, 3, 0, Math.PI * 2);
        ctx.stroke();
      }
      ctx.fillStyle = '#000';
      ctx.font = `27px ${FONT}`;
      ctx.textAlign = 'left';
      ctx.textBaseline = 'middle';
      ctx.fillText(e.name, 361, y + 1);
    });

    ctx.restore();
  },
};

export default function App() {
  const canvasRef = useRef<HTMLCanvasElement | null>(null);

  useEffect(() => {
    document.body.style.margin = '0';
    document.body.style.overflow = 'hidden';
    const canvas = canvasRef.current;
    if (!canvas) return;

    const tickFont = { family: FONT, size: 26 };

    const chart = new Chart(canvas, {
      type: 'line',
      data: {
        datasets: [
          {
            label: NAME_REAL,
            data: toPoints(realSeconds, realWatts),
            yAxisID: 'y',
            borderColor: COLOR_REAL,
            backgroundColor: COLOR_REAL,
            borderWidth: 5,
            pointRadius: 0,
            stepped: true,
            fill: false,
            order: 5,
          },
          {
            label: NAME_REACTIVE,
            data: toPoints(reactiveSeconds, reactiveVars),
            yAxisID: 'y',
            borderColor: COLOR_REACTIVE,
            backgroundColor: COLOR_REACTIVE,
            borderWidth: 5,
            pointRadius: 0,
            stepped: true,
            fill: false,
            order: 4,
          },
          {
            label: NAME_VAB,
            data: voltPoints(vabA, vabB, vabTail),
            yAxisID: 'y1',
            borderColor: COLOR_VAB,
            backgroundColor: 'rgba(0,0,0,0)',
            borderWidth: 2,
            pointStyle: 'rect',
            pointRadius: 5.5,
            pointBorderWidth: 2,
            pointBorderColor: COLOR_VAB,
            pointBackgroundColor: 'rgba(0,0,0,0)',
            fill: false,
            order: 3,
          },
          {
            label: NAME_VBC,
            data: voltPoints(vbcA, vbcB, vbcTail),
            yAxisID: 'y1',
            borderColor: COLOR_VBC,
            backgroundColor: 'rgba(0,0,0,0)',
            borderWidth: 2,
            pointStyle: 'triangle',
            pointRadius: 5,
            pointBorderWidth: 2,
            pointBorderColor: COLOR_VBC,
            pointBackgroundColor: 'rgba(0,0,0,0)',
            fill: false,
            order: 2,
          },
          {
            label: NAME_VCA,
            data: voltPoints(vcaA, vcaB, vcaTail),
            yAxisID: 'y1',
            borderColor: COLOR_VCA,
            backgroundColor: 'rgba(0,0,0,0)',
            borderWidth: 2,
            pointStyle: 'circle',
            pointRadius: 4,
            pointBorderWidth: 2,
            pointBorderColor: COLOR_VCA,
            pointBackgroundColor: 'rgba(0,0,0,0)',
            fill: false,
            order: 1,
          },
        ],
      },
      options: {
        animation: false,
        responsive: false,
        devicePixelRatio: 1,
        events: [],
        layout: { padding: { top: 19, left: 0, right: 0, bottom: 0 } },
        plugins: {
          legend: { display: false },
          tooltip: { enabled: false },
          title: { display: false },
        },
        scales: {
          x: {
            type: 'linear',
            position: 'bottom',
            min: X_MIN,
            max: X_MAX,
            ticks: {
              stepSize: X_STEP,
              autoSkip: false,
              includeBounds: false,
              minRotation: 90,
              maxRotation: 90,
              padding: 13,
              color: '#000',
              font: tickFont,
              callback: (v: any) => String(v),
            },
            grid: {
              drawOnChartArea: false,
              drawTicks: true,
              tickLength: 8,
              color: '#000',
              lineWidth: 1.5,
            },
            border: { display: true, color: '#000', width: 2 },
            afterFit: (s: any) => {
              s.height = 121;
              s.paddingLeft = 0;
              s.paddingRight = 0;
            },
          },
          y: {
            type: 'linear',
            position: 'left',
            min: POWER_MIN,
            max: POWER_MAX,
            ticks: {
              stepSize: POWER_STEP,
              padding: 12,
              color: '#000',
              font: tickFont,
              callback: (v: any) => Number(v).toLocaleString('en-US'),
            },
            grid: {
              drawOnChartArea: true,
              drawTicks: true,
              tickLength: 10,
              color: '#000',
              lineWidth: 1.5,
            },
            border: { display: true, color: '#000', width: 2 },
            afterFit: (s: any) => {
              s.width = 167;
              s.paddingTop = 0;
              s.paddingBottom = 0;
            },
          },
          y1: {
            type: 'linear',
            position: 'right',
            min: VOLT_MIN,
            max: VOLT_MAX,
            ticks: {
              stepSize: VOLT_STEP_TICK,
              padding: 12,
              color: '#000',
              font: tickFont,
              callback: (v: any) => String(v),
            },
            grid: {
              drawOnChartArea: false,
              drawTicks: true,
              tickLength: 9,
              color: '#000',
              lineWidth: 1.5,
            },
            border: { display: true, color: '#000', width: 2 },
            afterFit: (s: any) => {
              s.width = 118;
              s.paddingTop = 0;
              s.paddingBottom = 0;
            },
          },
        },
      },
      plugins: [overlayPlugin],
    });

    return () => {
      chart.destroy();
    };
  }, []);

  return (
    <div style={{ width: 1669, height: 930, background: '#fff' }}>
      <canvas ref={canvasRef} width={1669} height={930} style={{ display: 'block' }} />
    </div>
  );
}
